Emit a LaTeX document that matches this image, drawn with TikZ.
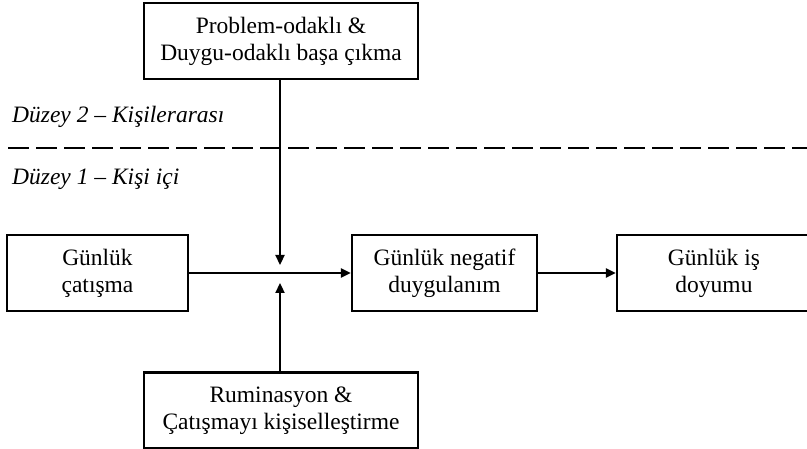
\documentclass[tikz,border=0pt]{standalone}
\usepackage{fontspec}
\setmainfont{Liberation Serif}
\usetikzlibrary{arrows.meta}
\begin{document}
\begin{tikzpicture}[x=1pt,y=-1pt,
  box/.style={draw, line width=2.3pt, rectangle, align=center, inner sep=0pt,
    font=\fontsize{23.5}{27}\selectfont},
  conn/.style={line width=2.3pt},
  arr/.style={conn, -{Triangle[length=10pt,width=9pt]}},
  lvl/.style={anchor=base west, inner sep=0pt, font=\fontsize{23.5}{27}\selectfont\itshape}]
\useasboundingbox (0,0) rectangle (807,449);
\fill[white] (0,0) rectangle (807,449);
\node[box, minimum width=274pt, minimum height=76pt] (top) at (281,41) {Problem-odaklı \&\\Duygu-odaklı başa çıkma};
\node[box, minimum width=181pt, minimum height=76pt] (left) at (97.5,273) {Günlük\\çatışma};
\node[box, minimum width=185pt, minimum height=76pt] (mid) at (444.5,273) {Günlük negatif\\duygulanım};
\node[box, minimum width=194pt, minimum height=76pt] (right) at (714,273) {Günlük iş\\doyumu};
\node[box, minimum width=274pt, minimum height=76pt] (bot) at (281,410.5) {Ruminasyon \&\\Çatışmayı kişiselleştirme};
\node[lvl] (l2) at (12,123) {Düzey 2 – Kişilerarası};
\node[lvl] (l1) at (12,185) {Düzey 1 – Kişi içi};
\coordinate (dl) at (8,148);
\coordinate (dr) at (807,148);
\draw[line width=2.3pt, dash pattern=on 21pt off 7pt] (dl) -- (dr);
\coordinate (j) at (280,273);
\coordinate (jt) at (280,265);
\coordinate (jb) at (280,283);
\draw[arr] (left.east) -- (mid.west);
\draw[arr] (mid.east) -- (right.west);
\draw[arr] (top.south -| j) -- (jt);
\draw[arr] (bot.north -| j) -- (jb);
\end{tikzpicture}
\end{document}
